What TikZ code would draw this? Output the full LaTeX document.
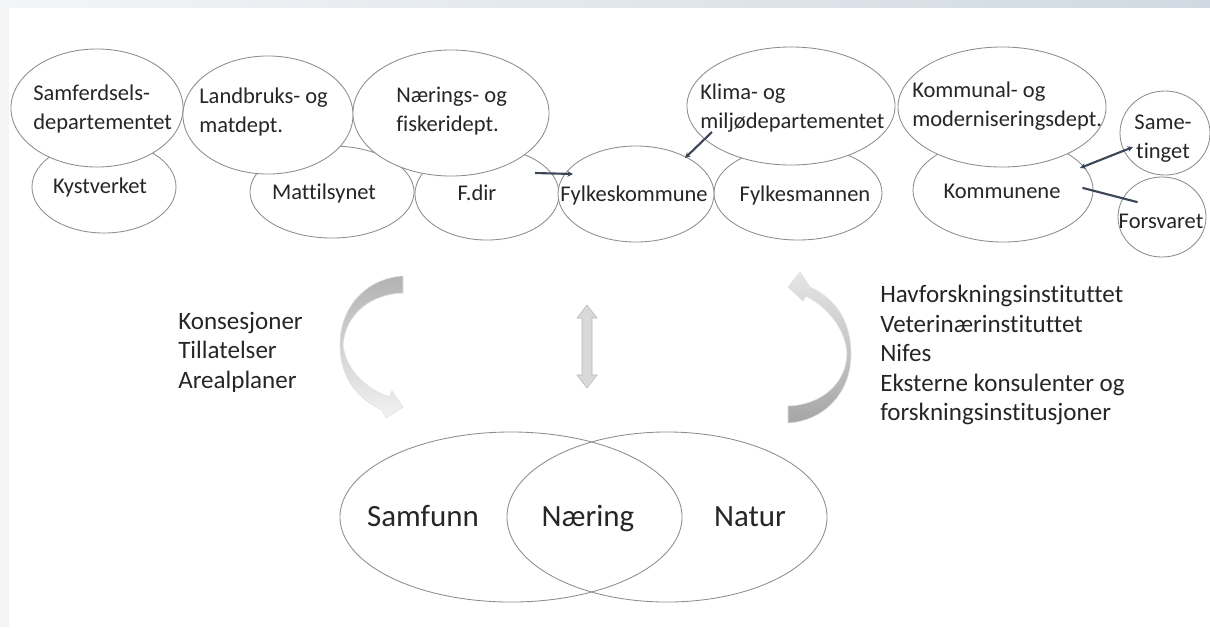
\documentclass[tikz,border=0pt]{standalone}
\usepackage{fontspec}
\setmainfont{Carlito}[Ligatures = NoCommon]
\usepackage{xcolor}
\usetikzlibrary{calc, shapes.geometric, arrows.meta}

\definecolor{edgegray}{HTML}{8C8C8C}
\definecolor{textgray}{HTML}{262626}
\definecolor{linkblue}{HTML}{3B4656}
\definecolor{pagegray}{HTML}{F3F5F7}

\tikzset{
	blob/.style 2 args = {ellipse, draw = edgegray, fill = white, line width = 0.6pt,
		minimum width = #1, minimum height = #2, inner sep = 0pt},
	word/.style = {inner sep = 0pt, text = textgray, align = left,
		font = \fontsize{16}{20.8}\selectfont},
	oneword/.style = {word, anchor = mid},
	sideword/.style = {word, anchor = west, font = \fontsize{17.8}{21}\selectfont},
	bigword/.style = {oneword, font = \fontsize{22}{26}\selectfont},
	link/.style = {draw = linkblue, line width = 1.5pt},
	tip/.style = {-{Stealth[length = 4pt, width = 4pt]}},
}

\begin{document}
\begin{tikzpicture}[x = 0.025cm, y = -0.025cm]
		\useasboundingbox (0,0) rectangle (1210,627);
		\fill [white] (0,0) rectangle (1210,627);
		\fill [pagegray] (0,0) rectangle (9,627);
		\shade [left color = pagegray, right color = {rgb,255:red,208;green,217;blue,225}] (0,0) rectangle (1210,7);
		
		% lower row of ellipses
		\begin{scope}
			\node [blob = {3.6cm}{2.3cm}] (kyst) at (104,187) {};
			\node [blob = {4.1cm}{2.3cm}] (matt) at (332,192) {};
			\node [blob = {3.6cm}{2.3cm}] (fdir) at (487,194) {};
			\node [blob = {4.2cm}{2.35cm}] (fmann) at (798,193) {};
			\node [blob = {4.5cm}{2.6cm}] (kommune) at (1003,190) {};
			\node [blob = {3.9cm}{2.4cm}] (fylk) at (636,194) {};
		\end{scope}
		
		% upper row of ellipses
		\begin{scope}
			\node [blob = {4.3cm}{2.95cm}] (samf) at (97,108) {};
			\node [blob = {4.25cm}{2.95cm}] (land) at (268,115) {};
			\node [blob = {4.9cm}{3.15cm}] (naer) at (451,113) {};
			\node [blob = {5.2cm}{2.95cm}] (klima) at (791,106) {};
			\node [blob = {5.2cm}{3.0cm}] (kmod) at (1002,107) {};
			\node [blob = {2.25cm}{2.1cm}] (same) at (1165,133) {};
			\node [blob = {2.2cm}{2.0cm}] (forsv) at (1162,217) {};
		\end{scope}
		
		\begin{scope}
			\node [word, anchor = west] (samf-t) at (33,109) {Samferdsels-\\departementet};
			\node [oneword] (kyst-t) at (100,190) {Kystverket};
			\node [word, anchor = west] (land-t) at (199,112) {Landbruks- og\\matdept.};
			\node [oneword] (matt-t) at (324,196) {Mattilsynet};
			\node [word, anchor = west] (naer-t) at (396,111) {Nærings- og\\fiskeridept.};
			\node [oneword] (fdir-t) at (477,197) {F.dir};
			\node [oneword] (fylk-t) at (634,198) {Fylkeskommune};
			\node [word, anchor = west] (klima-t) at (700,108) {Klima- og\\miljødepartementet};
			\node [oneword] (fmann-t) at (805,198) {Fylkesmannen};
			\node [word, anchor = west] (kmod-t) at (912,106) {Kommunal- og\\moderniseringsdept.};
			\node [oneword] (kommune-t) at (1002,195) {Kommunene};
			\node [word, align = center] (same-t) at (1163,139) {Same-\\tinget};
			\node [oneword] (forsv-t) at (1161,225) {Forsvaret};
		\end{scope}
		
		% short connectors
		\begin{scope}
			\draw [link, tip] ($(fdir.center)+(48,-21)$) -- ($(fylk.center)+(-63,-20)$);
			\draw [link, tip] ($(klima.center)+(-79,26)$) -- ($(fylk.center)+(49,-36)$);
			\draw [link, {Stealth[length = 4pt, width = 4pt]}-{Stealth[length = 4pt, width = 4pt]}] ($(kommune.center)+(77,-22)$) -- ($(same.center)+(-32,14)$);
			\draw [link, line cap = round] ($(kommune.center)+(80,-2)$) -- ($(forsv.center)+(-25,-15)$);
		\end{scope}
		
		% curved arrows and double arrow
		\begin{scope}
			\shade [top color = black!30, bottom color = black!5, draw = black!12]
				(403,276) .. controls (368,278) and (340,305) .. (340,345)
				.. controls (340,375) and (355,398) .. (382,410)
				-- (386,418) -- (403,407) -- (392,391) -- (389,397)
				.. controls (365,388) and (346,370) .. (343,345)
				.. controls (345,315) and (370,294) .. (403,293) -- cycle;
			\shade [top color = black!10, bottom color = black!35, draw = black!12]
				(788,423) .. controls (823,421) and (851,394) .. (851,354)
				.. controls (851,324) and (838,300) .. (810,287)
				-- (800,272) -- (788,287) -- (803,301) -- (806,296)
				.. controls (828,307) and (846,330) .. (847,354)
				.. controls (846,384) and (821,405) .. (788,406) -- cycle;
			\fill [black!15, draw = black!28]
				(587,305) -- (597,318) -- (592,318) -- (592,375) -- (597,375) -- (587,388)
				-- (577,375) -- (582,375) -- (582,318) -- (577,318) -- cycle;
		\end{scope}
		
		\begin{scope}
			\node [sideword] (krav) at (178,352) {Konsesjoner\\Tillatelser\\Arealplaner};
			\node [sideword] (kunnskap) at (880,355) {Havforskningsinstituttet\\Veterinærinstituttet\\Nifes\\Eksterne konsulenter og\\forskningsinstitusjoner};
		\end{scope}
		
		% venn of society, industry, nature
		\begin{scope}
			\node [ellipse, draw = edgegray, line width = 0.6pt, minimum width = 8.55cm, minimum height = 4.25cm, inner sep = 0pt] (samfunn) at (511,517) {};
			\node [ellipse, draw = edgegray, line width = 0.6pt, minimum width = 8.0cm, minimum height = 4.25cm, inner sep = 0pt] (natur) at (667,517) {};
			\node [bigword] (samfunn-t) at (423,523) {Samfunn};
			\node [bigword] (naering-t) at (588,523) {Næring};
			\node [bigword] (natur-t) at (750,523) {Natur};
		\end{scope}
	\end{tikzpicture}
\end{document}
